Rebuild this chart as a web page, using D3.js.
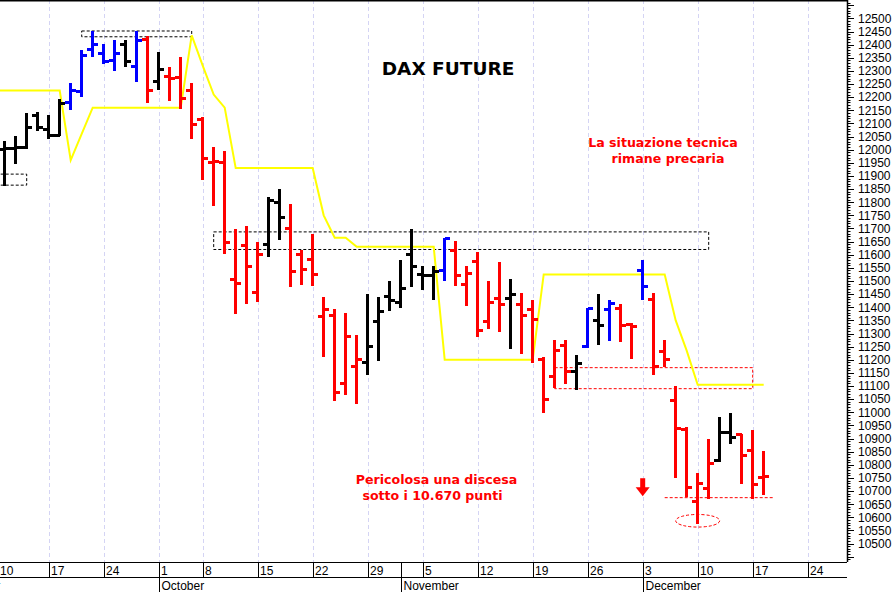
<!DOCTYPE html>
<html><head><meta charset="utf-8">
<script src="https://cdn.jsdelivr.net/npm/d3@7"></script>
<style>html,body{margin:0;padding:0;background:#fff;overflow:hidden}</style>
</head><body>
<svg id="c" width="896" height="592"></svg>
<script>
// ---------- DATA ----------
const holidays = ["2018-10-03"];
const barDates = [
 "2018-09-11","2018-09-12","2018-09-13","2018-09-14",
 "2018-09-17","2018-09-18","2018-09-19","2018-09-20","2018-09-21",
 "2018-09-24","2018-09-25","2018-09-26","2018-09-27","2018-09-28",
 "2018-10-01","2018-10-02","2018-10-04","2018-10-05",
 "2018-10-08","2018-10-09","2018-10-10","2018-10-11","2018-10-12",
 "2018-10-15","2018-10-16","2018-10-17","2018-10-18","2018-10-19",
 "2018-10-22","2018-10-23","2018-10-24","2018-10-25","2018-10-26",
 "2018-10-29","2018-10-30","2018-10-31","2018-11-01","2018-11-02",
 "2018-11-05","2018-11-06","2018-11-07","2018-11-08","2018-11-09",
 "2018-11-12","2018-11-13","2018-11-14","2018-11-15","2018-11-16",
 "2018-11-19","2018-11-20","2018-11-21","2018-11-22","2018-11-23",
 "2018-11-26","2018-11-27","2018-11-28","2018-11-29","2018-11-30",
 "2018-12-03","2018-12-04","2018-12-05","2018-12-06","2018-12-07",
 "2018-12-10","2018-12-11","2018-12-12","2018-12-13","2018-12-14",
 "2018-12-17","2018-12-18"];
const open = [12000,12005,12010,12130, 12075,12055,12180,12220,12380, 12365,12340,12400,12315,12420,
 12260,12280,12275,12225, 12115,11950,11950,11505,11635, 11455,11640,11800,11700,11600,
 11580,11365,11370,11110,11175, 11190,11345,11440,11420,11600, 11525,11520,11540,11615,11485,
 11575,11345,11435,11435,11410, 11390,11200,11135,11255,11155, 11250,11350,11390,11395,11335,
 11540,11430,11230,11045,10935, 10660,10710,10815,10925,10915, 10855,10750];
const high = [12030,12050,12135,12140, 12130,12190,12250,12375,12450, 12400,12415,12415,12450,12430,
 12370,12310,12350,12250, 12120,12005,11990,11695,11705, 11645,11815,11845,11790,11615,
 11675,11435,11390,11375,11290, 11445,11435,11495,11575,11695, 11555,11555,11660,11650,11555,
 11605,11495,11570,11505,11450, 11425,11205,11270,11270,11215, 11395,11445,11425,11410,11335,
 11575,11450,11270,11095,10940, 10765,10895,10980,10995,10915, 10930,10850];
const low = [11865,11950,12005,12075, 12045,12055,12155,12205,12355, 12330,12305,12320,12260,12180,
 12230,12190,12160,12045, 11890,11790,11605,11380,11415, 11425,11595,11660,11480,11490,
 11485,11215,11045,11070,11035, 11145,11200,11390,11400,11480, 11470,11430,11505,11485,11410,
 11290,11320,11310,11245,11225, 11190,11000,11095,11110,11090, 11250,11260,11275,11270,11205,
 11430,11145,11175,10755,10680, 10580,10675,10815,10885,10730, 10675,10690];
const close = [12005,12010,12085,12085, 12055,12175,12225,12360,12400, 12335,12365,12335,12415,12225,
 12305,12270,12195,12095, 11965,11955,11645,11490,11555, 11600,11805,11740,11535,11545,
 11525,11390,11075,11290,11200, 11250,11385,11425,11470,11555, 11520,11535,11660,11520,11530,
 11310,11420,11410,11450,11370, 11355,11050,11235,11155,11185, 11395,11330,11415,11330,11325,
 11480,11175,11200,10940,10715, 10730,10805,10925,10905,10835, 10725,10755];
const barColor = ("kkkkkkbbbbbkbrk" + "rrrrrrrrr" + "kk" + "rrrrrrr" + "kkkkkkk" + "b" +
 "rrrrr" + "k" + "rrrrr" + "k" + "bkb" + "rr" + "b" + "rrrrrr" + "kk" + "rrr").split("");
const trendDates = ["2018-09-10"].concat(barDates);
const trend = [12225,12225,12225,12225,12225,12225,12225, 11960, 12060,
 12160,12160,12160,12160,12160,12160,12160,12160,12160, 12435, 12320, 12210, 12160,
 11930,11930,11930,11930,11930,11930,11930,11930, 11750, 11665,11665,
 11630,11630,11630,11630,11630,11630,11630,11630,
 11200,11200,11200,11200,11200,11200,11200,11200,11200,
 11525,11525,11525,11525,11525,11525,11525,11525,11525,11525,11525,11525,
 11350, 11235, 11105,11105,11105,11105,11105,11105,11105];
const monthNames = ["September","October","November","December"];
const monthStarts = ["2018-09-03","2018-10-01","2018-11-01","2018-12-03"];
const yTickMin = 10500, yTickMax = 12500;
// annotation zones: [fromDate, toDate, lowValue, highValue]
const blackBoxes = [["2018-09-05","2018-09-13",11865,11907],["2018-09-20","2018-10-05",12430,12452],["2018-10-09","2018-12-11",11620,11687]];
const redBoxes = [["2018-11-21","2018-12-17",11090,11170]];
const supportLine = ["2018-12-05","2018-12-19",10675];
const lowMark = ["2018-12-10",10587];
const arrowMark = ["2018-12-03",10749,10680];
const title = "DAX FUTURE";
const note1 = ["La situazione tecnica","rimane precaria"];
const note2 = ["Pericolosa una discesa","sotto i 10.670 punti"];

// ---------- SCALES ----------
const W = 896, H = 592, plotR = 847, plotB = 562;
const fmt = d3.utcFormat("%Y-%m-%d");
const cal = d3.utcDay.range(new Date(Date.UTC(2018,7,27)), new Date(Date.UTC(2019,0,8)))
  .filter(d => d.getUTCDay() !== 0 && d.getUTCDay() !== 6 && !holidays.includes(fmt(d)));
const idx = new Map(cal.map((d,i)=>[fmt(d), i]));
const i0 = idx.get("2018-09-10");
const x = d3.scaleLinear().domain([i0 + 0.573, i0 + 77.573]).range([0, plotR]);
const xd = s => x(idx.get(s));
const y = d3.scaleLinear().domain([10430, 12570]).range([plotB, 0]);

const svg = d3.select("#c");
svg.append("rect").attr("width",W).attr("height",H).attr("fill","#fff");
svg.append("defs").append("clipPath").attr("id","pc").append("rect")
  .attr("x",0).attr("y",0).attr("width",plotR).attr("height",plotB);
const g = svg.append("g").attr("clip-path","url(#pc)");

// grid at Mondays
const mondays = cal.filter(d => d.getUTCDay() === 1 && x(idx.get(fmt(d))) > -20 && x(idx.get(fmt(d))) <= plotR);
g.selectAll(".grid").data(mondays).join("line")
  .attr("x1", d=>Math.round(xd(fmt(d)))+0.5).attr("x2", d=>Math.round(xd(fmt(d)))+0.5)
  .attr("y1",0).attr("y2",plotB)
  .attr("stroke","#d4d4f4").attr("stroke-width",1).attr("stroke-dasharray","4,3");

// dashed boxes
function box(b, col){
  g.append("rect").attr("x", xd(b[0])).attr("y", y(b[3]))
   .attr("width", xd(b[1]) - xd(b[0])).attr("height", y(b[2]) - y(b[3]))
   .attr("fill","none").attr("stroke",col).attr("stroke-width",1).attr("stroke-dasharray","3,2");
}
blackBoxes.forEach(b=>box(b,"#000"));
redBoxes.forEach(b=>box(b,"#ff0000"));
g.append("line").attr("x1",xd(supportLine[0])).attr("x2",xd(supportLine[1]))
  .attr("y1",y(supportLine[2])).attr("y2",y(supportLine[2]))
  .attr("stroke","#ff0000").attr("stroke-dasharray","3,2");
g.append("ellipse").attr("cx",xd(lowMark[0])).attr("cy",y(lowMark[1]))
  .attr("rx", x(2) - x(0)).attr("ry", y(12500-24) - y(12500))
  .attr("fill","none").attr("stroke","#ff0000").attr("stroke-dasharray","3,2");

// trend line
g.append("path").datum(trend)
  .attr("d", d3.line().x((d,i)=>xd(trendDates[i])).y(d=>y(d)))
  .attr("fill","none").attr("stroke","#ffff00").attr("stroke-width",2);

// OHLC bars
const colMap = {k:"#000000", b:"#0000ff", r:"#ff0000"};
const bars = g.selectAll(".bar").data(barDates).join("g").attr("shape-rendering","crispEdges")
  .attr("stroke", (d,i)=>colMap[barColor[i]]).attr("stroke-width",3);
bars.append("line").attr("x1",d=>xd(d)).attr("x2",d=>xd(d))
  .attr("y1",(d,i)=>y(high[i])-1).attr("y2",(d,i)=>y(low[i])+1);
bars.append("line").attr("x1",d=>xd(d)-5.5).attr("x2",d=>xd(d))
  .attr("y1",(d,i)=>y(open[i])).attr("y2",(d,i)=>y(open[i]));
bars.append("line").attr("x1",d=>xd(d)).attr("x2",d=>xd(d)+5.5)
  .attr("y1",(d,i)=>y(close[i])).attr("y2",(d,i)=>y(close[i]));

// arrow
const ax = xd(arrowMark[0]), ay1 = y(arrowMark[1]), ay2 = y(arrowMark[2]);
g.append("rect").attr("x",ax-2.5).attr("y",ay1).attr("width",5).attr("height",(ay2-ay1)*0.55).attr("fill","#ff0000");
g.append("path").attr("d",`M${ax-7},${ay1+(ay2-ay1)*0.5} L${ax+7},${ay1+(ay2-ay1)*0.5} L${ax},${ay2} Z`).attr("fill","#ff0000");

// texts
const tf = "'DejaVu Sans', Verdana, sans-serif";
svg.append("text").attr("x",448).attr("y",75).attr("text-anchor","middle")
  .attr("font-family",tf).attr("font-weight","bold").attr("font-size",18.5).attr("fill","#000").text(title);
svg.append("text").attr("x",663).attr("y",146.5).attr("text-anchor","middle")
  .attr("font-family",tf).attr("font-weight","bold").attr("font-size",12.6).attr("fill","#ff0000").text(note1[0]);
svg.append("text").attr("x",668).attr("y",162.5).attr("text-anchor","middle")
  .attr("font-family",tf).attr("font-weight","bold").attr("font-size",12.6).attr("fill","#ff0000").text(note1[1]);
svg.append("text").attr("x",436.5).attr("y",484).attr("text-anchor","middle")
  .attr("font-family",tf).attr("font-weight","bold").attr("font-size",12.6).attr("fill","#ff0000").text(note2[0]);
svg.append("text").attr("x",432.5).attr("y",499.5).attr("text-anchor","middle")
  .attr("font-family",tf).attr("font-weight","bold").attr("font-size",12.6).attr("fill","#ff0000").text(note2[1]);

// frame
svg.append("line").attr("x1",0).attr("x2",plotR+0.5).attr("y1",0.5).attr("y2",0.5).attr("stroke","#000").attr("stroke-width",2);
svg.append("line").attr("x1",plotR+0.5).attr("x2",plotR+0.5).attr("y1",0).attr("y2",plotB).attr("stroke","#000").attr("stroke-width",1.5);

// y axis ticks
const af = "'Liberation Sans', Arial, sans-serif";
const minor = d3.range(10440, 12570, 10);
svg.selectAll(".ytk").data(minor).join("line")
  .attr("x1",plotR).attr("x2",d=> d%50===0 ? plotR+7 : plotR+3.5)
  .attr("y1",d=>Math.round(y(d))+0.5).attr("y2",d=>Math.round(y(d))+0.5)
  .attr("stroke","#000").attr("stroke-width",1);
svg.selectAll(".ylb").data(d3.range(yTickMin, yTickMax+1, 50)).join("text")
  .attr("x",858).attr("y",d=>y(d)+4.3).attr("font-family",af).attr("font-size",12).attr("fill","#000")
  .text(d=>d);

// x axis
svg.append("line").attr("x1",0).attr("x2",plotR).attr("y1",plotB+0.5).attr("y2",plotB+0.5).attr("stroke","#000");
svg.append("line").attr("x1",0).attr("x2",plotR).attr("y1",577.5).attr("y2",577.5).attr("stroke","#000");
const wk = mondays.filter(d => xd(fmt(d)) <= plotR);
svg.selectAll(".wsep").data(wk).join("line")
  .attr("x1",d=>Math.round(xd(fmt(d)))+0.5).attr("x2",d=>Math.round(xd(fmt(d)))+0.5)
  .attr("y1",plotB).attr("y2",577.5).attr("stroke","#000");
svg.selectAll(".wlb").data(wk).join("text")
  .attr("x",d=>Math.max(0, Math.round(xd(fmt(d)))+2)).attr("y",574.5)
  .attr("font-family",af).attr("font-size",12).attr("fill","#000")
  .text(d=>d.getUTCDate());
svg.selectAll(".msep").data(monthStarts).join("line")
  .attr("x1",d=>Math.round(xd(d))+0.5).attr("x2",d=>Math.round(xd(d))+0.5)
  .attr("y1",plotB).attr("y2",H).attr("stroke","#000");
svg.selectAll(".mlb").data(monthStarts).join("text")
  .attr("x",d=>Math.round(xd(d))+2.5).attr("y",590)
  .attr("font-family",af).attr("font-size",12).attr("fill","#000")
  .text((d,i)=>monthNames[i]);
</script>
</body></html>
